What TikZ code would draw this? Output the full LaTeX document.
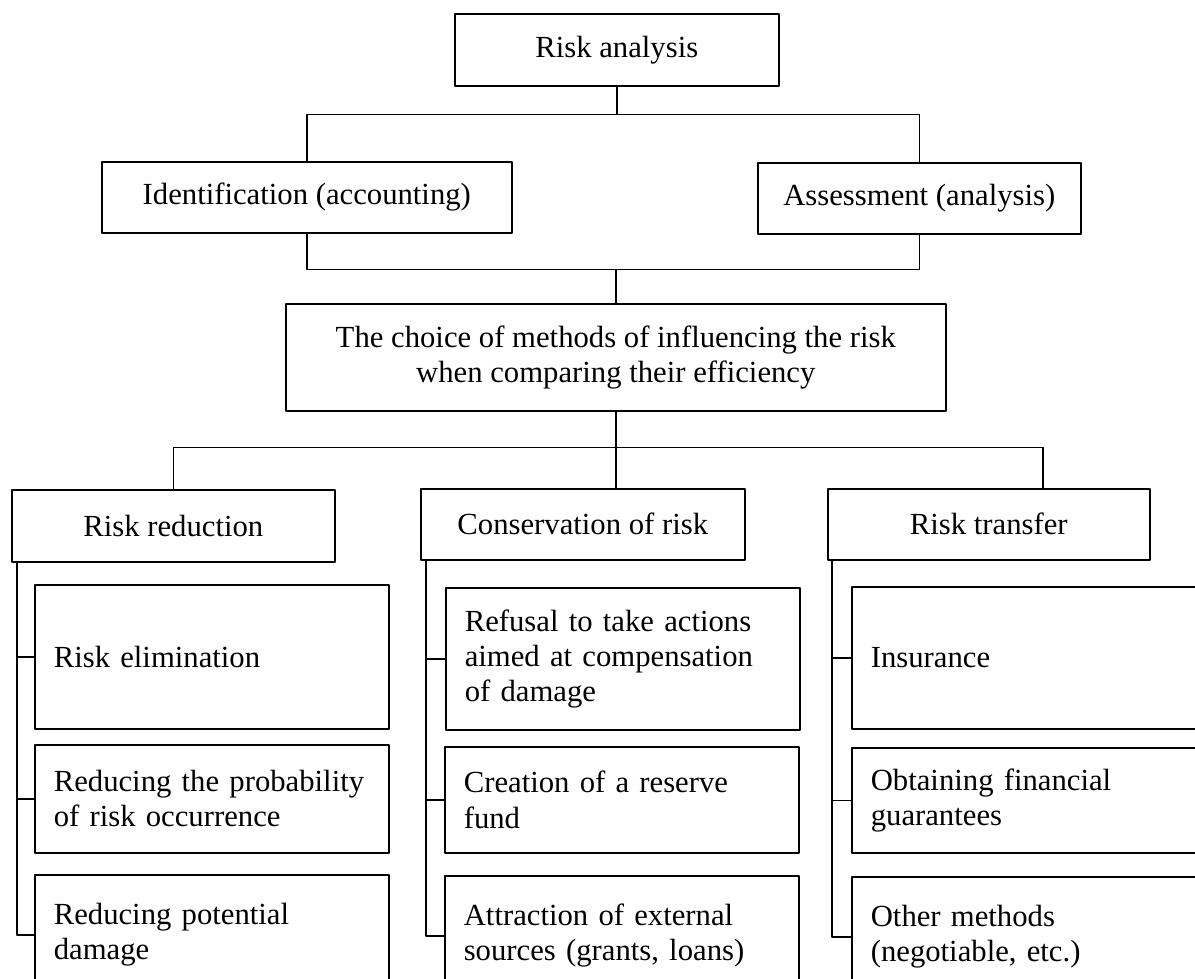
\documentclass[tikz,border=0pt]{standalone}
\usepackage{fontspec}
\setmainfont{Liberation Serif}

\begin{document}
\begin{tikzpicture}[line cap=round, line join=round, x=1pt, y=-1pt,
        font=\fontsize{30.7}{35.3}\selectfont,
        box/.style={draw, line width=1.6pt, align=center, inner sep=0pt, anchor=north west},
        item/.style={draw, line width=1.6pt, align=left, text width=316pt, inner xsep=19pt, inner ysep=0pt, anchor=north west},
        link/.style={line width=1.6pt}]

            \useasboundingbox (0,0) rectangle (1195,978);
            \clip (0,0) rectangle (1195,978);

            \node[box, minimum width=324pt, minimum height=72pt] (ra) at (454,13) {Risk analysis};
            \node[box, minimum width=410pt, minimum height=71pt] (id) at (101,161) {Identification (accounting)};
            \node[box, minimum width=323pt, minimum height=71pt] (as) at (757,162) {Assessment (analysis)};
            \node[box, minimum width=660pt, minimum height=107pt] (ch) at (285,303) {The choice of methods of influencing the risk\\when comparing their efficiency};

            \node[box, minimum width=323pt, minimum height=72pt] (red) at (11,489) {Risk reduction};
            \node[box, minimum width=324pt, minimum height=71pt] (co) at (420,488) {Conservation of risk};
            \node[box, minimum width=322pt, minimum height=71pt] (tr) at (827,488) {Risk transfer};

            \node[item, minimum height=144pt] (r1) at (34,584) {Risk elimination};
            \node[item, minimum height=108pt] (r2) at (34,744) {Reducing the probability\\of risk occurrence};
            \node[item, minimum height=120pt] (r3) at (34,874) {Reducing potential\\damage};

            \node[item, minimum height=142pt] (c1) at (445,587) {Refusal to take actions\\aimed at compensation\\of damage};
            \node[item, minimum height=106pt] (c2) at (444,746) {Creation of a reserve\\fund};
            \node[item, minimum height=120pt] (c3) at (444,875) {Attraction of external\\sources (grants, loans)};

            \node[item, minimum height=142pt] (t1) at (851,586) {Insurance};
            \node[item, minimum height=105pt] (t2) at (851,747) {Obtaining financial\\guarantees};
            \node[item, minimum height=120pt] (t3) at (851,876) {Other methods\\(negotiable, etc.)};

            \draw[link] (ra.south) -- ++(0,28) coordinate (j1) -| (id.north);
            \draw[link] (j1) -| (as.north);
            \draw[link] (id.south) -- ++(0,36) coordinate (j2) -| (as.south);
            \draw[link] (j2 -| ch.north) -- (ch.north);

            \draw[link] (ch.south) -- (ch.south |- co.north);
            \path (ch.south) ++(0,36) coordinate (j3);
            \draw[link] (red.north) |- (j3) -| ([xshift=54pt]tr.north);

            \draw[link] (red.south west) ++(6,0) coordinate (rb) |- (r1.west);
            \draw[link] (rb) |- (r2.west);
            \draw[link] (rb) |- (r3.west);

            \draw[link] (co.south west) ++(6,0) coordinate (cb) |- (c1.west);
            \draw[link] (cb) |- (c2.west);
            \draw[link] (cb) |- (c3.west);

            \draw[link] (tr.south west) ++(5,0) coordinate (tb) |- (t1.west);
            \draw[link] (tb) |- (t2.west);
            \draw[link] (tb) |- (t3.west);

        \end{tikzpicture}
\end{document}
